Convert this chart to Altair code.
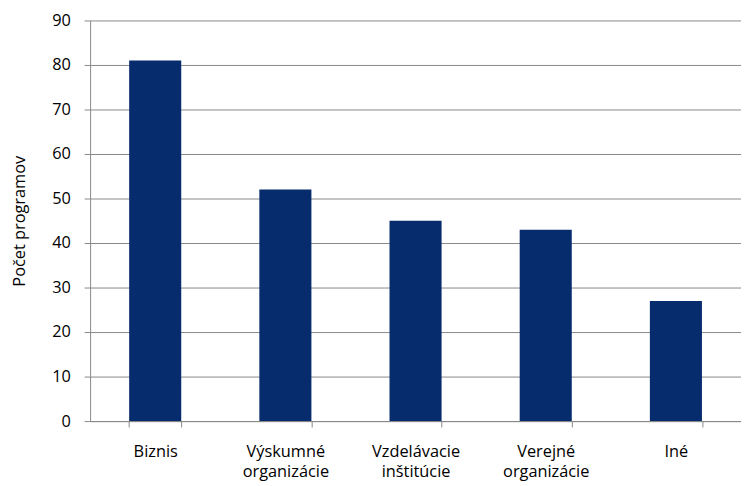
import altair as alt
import pandas as pd

categories = ["Biznis", "Výskumné organizácie", "Vzdelávacie inštitúcie", "Verejné organizácie", "Iné"]
values = [81, 52, 45, 43, 27]
y_ticks = [0, 10, 20, 30, 40, 50, 60, 70, 80, 90]

df = pd.DataFrame({"kategoria": categories, "pocet": values})

FONT = "Open Sans"
FS = 16.5

chart = alt.Chart(df).mark_bar(color="#072C6E").encode(
    x=alt.X(
        "kategoria:N",
        sort=categories,
        title=None,
        scale=alt.Scale(paddingInner=0.6, paddingOuter=0.3),
        axis=alt.Axis(
            labelAngle=0,
            labelExpr="split(datum.label, ' ')",
            labelFont=FONT,
            labelFontSize=FS,
            labelColor="#000000",
            labelPadding=17,
            labelLineHeight=20,
            tickBand="extent",
            tickSize=6,
            tickColor="#888888",
            domainColor="#888888",
            grid=False,
        ),
    ),
    y=alt.Y(
        "pocet:Q",
        title="Počet programov",
        scale=alt.Scale(domain=[0, 90], nice=False),
        axis=alt.Axis(
            values=y_ticks,
            labelFont=FONT,
            labelFontSize=FS,
            labelColor="#000000",
            labelPadding=14,
            titleFont=FONT,
            titleFontSize=FS,
            titleFontWeight="normal",
            titleColor="#000000",
            titlePadding=24,
            tickSize=6,
            tickColor="#888888",
            domainColor="#888888",
            gridColor="#888888",
            gridWidth=1,
        ),
    ),
).properties(
    width=658,
    height=405,
    padding={"top": 2, "left": 4, "right": 0, "bottom": 0},
).configure_view(stroke=None)

chart.save("out.html", embed_options={"renderer": "svg", "actions": False})
